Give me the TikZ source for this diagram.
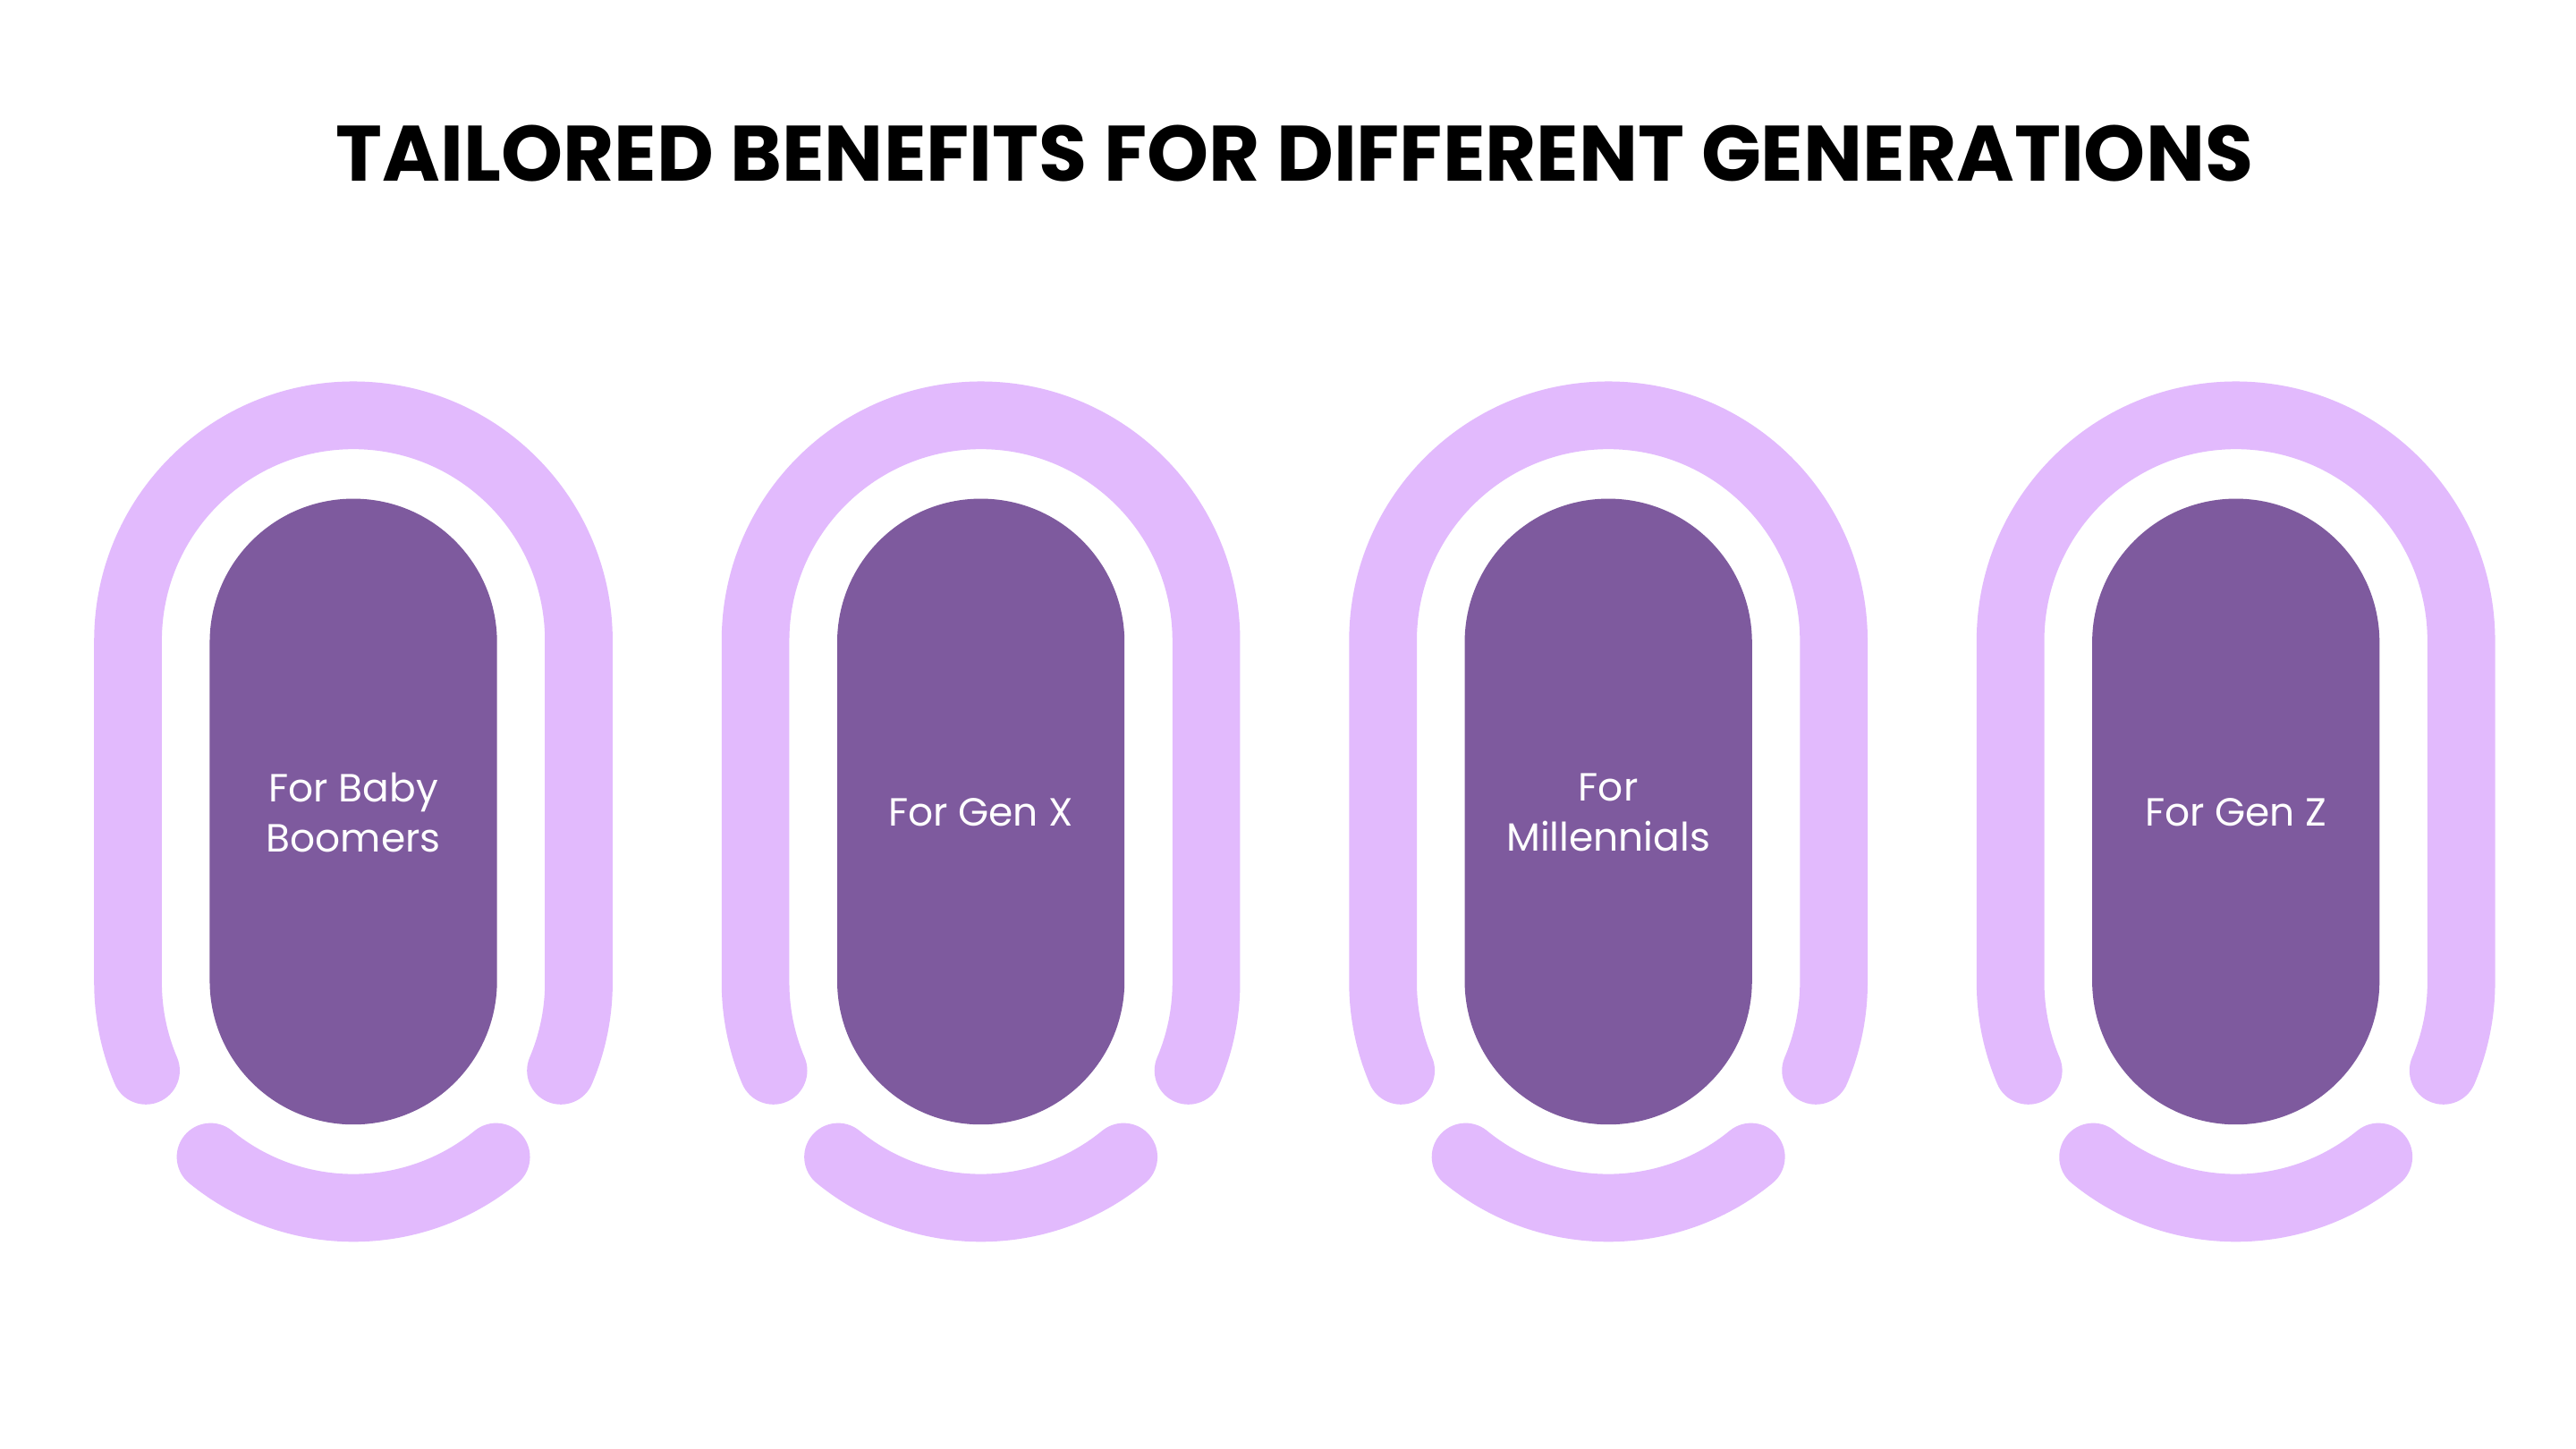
\documentclass[tikz,border=0pt]{standalone}
\usepackage{fontspec}
\setmainfont{Poppins}
\definecolor{lightp}{HTML}{E2BAFD}
\definecolor{darkp}{HTML}{7E5A9E}
\tikzset{band/.style={draw=lightp,line width=41*0.01846cm,line cap=round},
 pill/.style={fill=darkp},
 lab/.style={text=white,font=\fontsize{12.5}{16}\selectfont,align=center}}
\begin{document}
\begin{tikzpicture}[x=0.01846cm,y=-0.01846cm]
\useasboundingbox[fill=white] (0,0) rectangle (1560,877);
\node[font=\fontsize{25}{30}\selectfont\bfseries] (title) at (784,93) {TAILORED BENEFITS FOR DIFFERENT GENERATIONS};
\foreach \cx/\nm/\txt in {214/a/{For Baby\\ Boomers},594/b/{For Gen X},974/c/{For\\Millennials},1354/d/{For Gen Z}}{
  \draw[band] ([shift={(157:136.5)}]\cx,595) arc[start angle=157,end angle=180,radius=136.5]
     -- (\cx-136.5,388) arc[start angle=180,end angle=360,radius=136.5]
     -- (\cx+136.5,595) arc[start angle=0,end angle=23,radius=136.5];
  \draw[band] ([shift={(129.3:136.5)}]\cx,595) arc[start angle=129.3,end angle=50.7,radius=136.5];
  \fill[pill] (\cx-87,389) arc[start angle=180,end angle=360,radius=87] -- (\cx+87,594)
     arc[start angle=0,end angle=180,radius=87] -- cycle;
  \node[lab] (\nm) at (\cx,492) {\txt};
}
\end{tikzpicture}
\end{document}
